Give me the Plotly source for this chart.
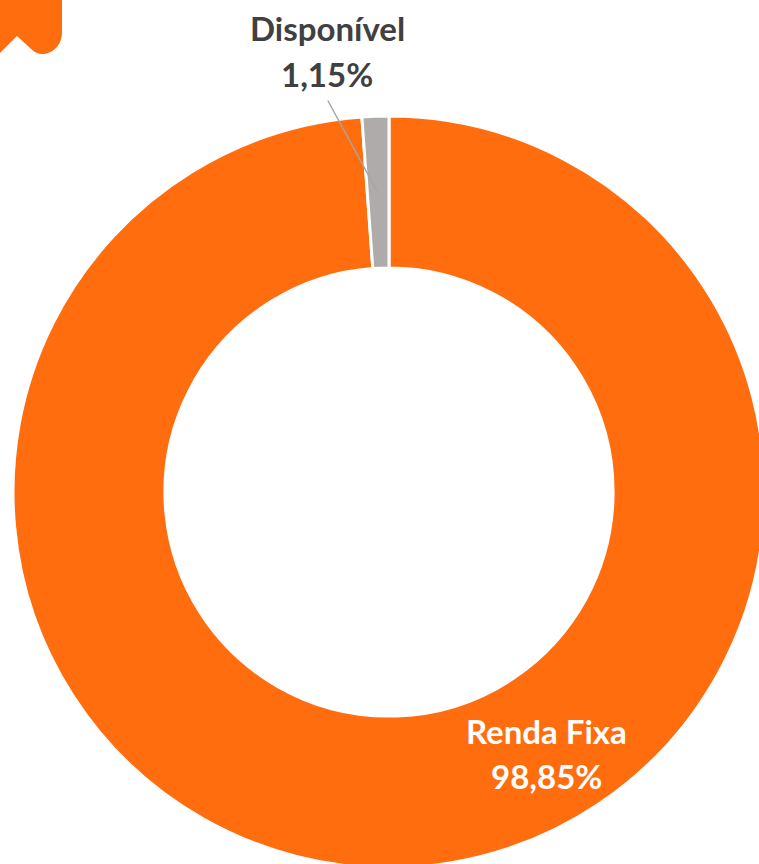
import plotly.graph_objects as go

# ---- data ----
labels = ["Renda Fixa", "Disponível"]
values = [98.85, 1.15]
value_text = ["98,85%", "1,15%"]
colors = ["#FF6D0E", "#AEABAA"]

W, H = 770, 872  # figure slightly larger than the 759x864 window; the donut is cut at the edges


def px(x, y):
    return x / W, 1 - y / H


# donut geometry (pixels)
cx, cy, r = 389, 492, 376
dom_x = [(cx - r) / W, (cx + r) / W]
dom_y = [1 - (cy + r) / H, 1 - (cy - r) / H]

fig = go.Figure()
fig.add_trace(go.Pie(
    labels=labels,
    values=values,
    sort=False,
    direction="clockwise",
    rotation=0,
    hole=0.596,
    marker=dict(colors=colors, line=dict(color="white", width=3)),
    textinfo="none",
    hoverinfo="label+percent",
    showlegend=False,
    domain=dict(x=dom_x, y=dom_y),
))

font_family = "Lato, 'Open Sans', sans-serif"
FS = 33


def label(xp, yp, text, color):
    x, y = px(xp, yp)
    return dict(x=x, y=y, xref="paper", yref="paper", text=f"<b>{text}</b>",
                xanchor="center", yanchor="middle", showarrow=False,
                font=dict(family=font_family, size=FS, color=color))


annots = [
    label(327, 28, labels[1], "#404040"),
    label(327, 74, value_text[1], "#404040"),
    label(546, 731, labels[0], "white"),
    label(546, 776, value_text[0], "white"),
]
# leader line for Disponível
x, y = px(377, 191)
annots.append(dict(x=x, y=y, xref="paper", yref="paper", text="", showarrow=True,
                   arrowhead=0, arrowwidth=1.5, arrowcolor="#A6A6A6",
                   ax=-50, ay=-92, standoff=0, startstandoff=0))


# bookmark tab decoration in top-left corner
def P(x, y):
    a, b = px(x, y)
    return f"{a:.5f},{b:.5f}"


path = (f"M {P(0,0)} L {P(62,0)} L {P(62,32)} "
        f"C {P(62,46)} {P(52,54)} {P(42,54)} "
        f"C {P(36,54)} {P(32,50)} {P(28,46)} "
        f"L {P(17,36)} L {P(0,53)} Z")

fig.update_layout(
    width=W, height=H,
    margin=dict(l=0, r=0, t=0, b=0),
    paper_bgcolor="white",
    plot_bgcolor="white",
    annotations=annots,
    shapes=[dict(type="path", xref="paper", yref="paper", path=path,
                 fillcolor="#FF6D0E", line=dict(width=0), layer="above")],
)

fig.write_html("out.html", config={"displayModeBar": False},
               post_script="document.body.style.margin='0';")
